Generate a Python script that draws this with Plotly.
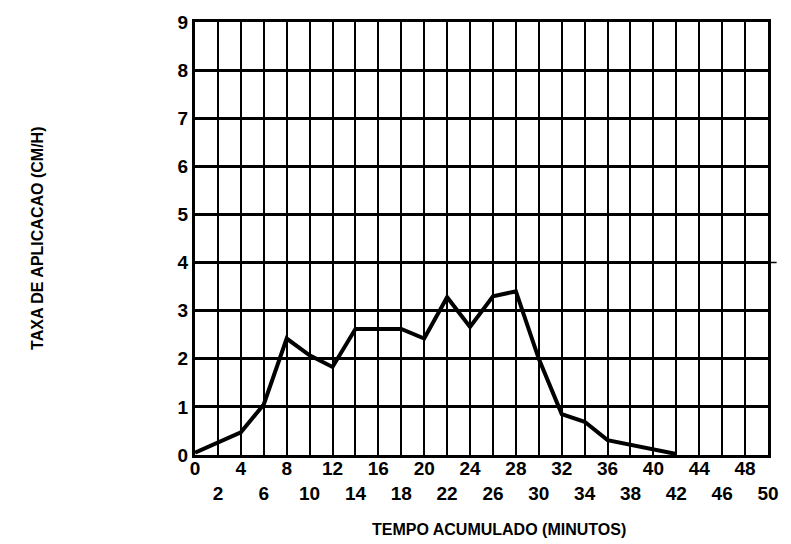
import plotly.graph_objects as go

# Accumulated time (minutes) and application rate (cm/h)
tempo = [0, 4, 6, 8, 10, 12, 14, 18, 20, 22, 24, 26, 28, 30, 32, 34, 36, 38, 40, 42]
taxa = [0.05, 0.47, 1.05, 2.42, 2.07, 1.83, 2.62, 2.62, 2.42, 3.28, 2.66, 3.3, 3.4, 2.0, 0.85, 0.69, 0.31, 0.21, 0.1, 0.02]

x_ticks = list(range(0, 51, 2))
y_ticks = list(range(0, 10))
# Staggered labels: every other tick drops to a second row
x_labels = [str(v) if i % 2 == 0 else "<br>" + str(v) for i, v in enumerate(x_ticks)]
ref_level = 4

tick_font = dict(family="Liberation Sans, Arial, sans-serif", size=19, color="black", weight="bold")
title_font = dict(family="Liberation Sans, Arial, sans-serif", size=16, color="black", weight="bold")

fig = go.Figure()
fig.add_trace(go.Scatter(
    x=tempo, y=taxa, mode="lines",
    line=dict(color="black", width=4),
    hoverinfo="skip", showlegend=False,
))

fig.update_layout(
    width=791, height=544,
    margin=dict(l=195, r=15, t=18, b=89),
    paper_bgcolor="white", plot_bgcolor="white",
    xaxis=dict(
        range=[0, 50], tickmode="array", tickvals=x_ticks, ticktext=x_labels,
        showgrid=True, gridcolor="black", gridwidth=2,
        zeroline=False, showline=True, linecolor="black", linewidth=3, mirror=True,
        ticks="", tickfont=tick_font, tickangle=0, ticklabelstandoff=-6,
    ),
    yaxis=dict(
        range=[0, 9], tickmode="array", tickvals=y_ticks,
        showgrid=True, gridcolor="black", gridwidth=3,
        zeroline=False, showline=True, linecolor="black", linewidth=3, mirror=True,
        ticks="", tickfont=tick_font,
    ),
    annotations=[
        dict(text="TAXA DE APLICACAO (CM/H)", xref="paper", yref="paper",
             x=-0.275, y=0.50, textangle=-90, showarrow=False, font=title_font,
             xanchor="center", yanchor="middle"),
        dict(text="TEMPO ACUMULADO (MINUTOS)", xref="paper", yref="paper",
             x=0.53, y=-0.172, showarrow=False, font=title_font,
             xanchor="center", yanchor="middle"),
    ],
    shapes=[
        dict(type="line", xref="paper", yref="y", x0=0, x1=1.015, y0=ref_level, y1=ref_level,
             line=dict(color="black", width=1.5)),
    ],
)

fig.write_html("out.html")
